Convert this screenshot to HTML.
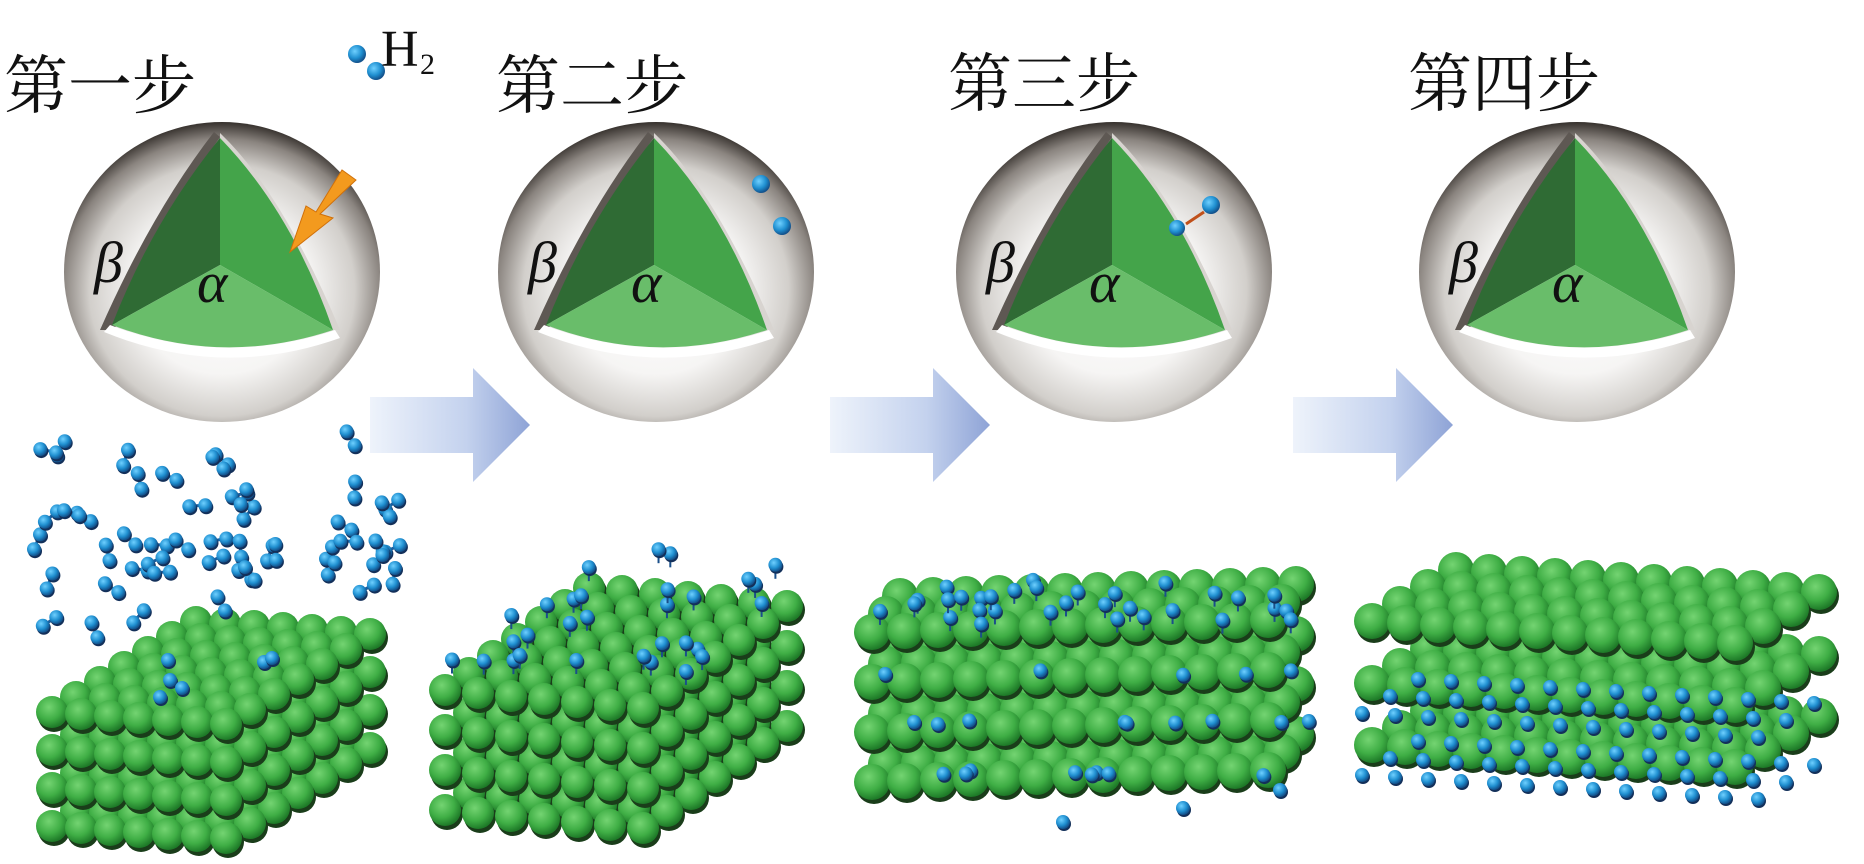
<!DOCTYPE html>
<html><head><meta charset="utf-8"><style>
html,body{margin:0;padding:0;background:#fff;}
svg{display:block;}
.lab{font-family:"Liberation Serif","Noto Serif CJK SC","Noto Sans CJK SC",serif;font-size:64px;fill:#111;}
.gr{font-family:"Liberation Serif",serif;font-style:italic;font-size:58px;fill:#111;}
</style></head><body>
<svg id="s" width="1864" height="864" viewBox="0 0 1864 864" xmlns="http://www.w3.org/2000/svg">
<defs>
<radialGradient id="sph" cx="50%" cy="56%" r="56%">
<stop offset="0" stop-color="#ffffff"/><stop offset="0.5" stop-color="#f6f5f4"/>
<stop offset="0.75" stop-color="#d2cfcb"/><stop offset="0.9" stop-color="#8a847f"/><stop offset="1" stop-color="#36312d"/>
</radialGradient>
<radialGradient id="gb" cx="40%" cy="35%" r="65%">
<stop offset="0" stop-color="#74d472"/><stop offset="0.6" stop-color="#3fae45"/><stop offset="1" stop-color="#1e7a28"/>
</radialGradient>
<radialGradient id="bb" cx="38%" cy="35%" r="65%">
<stop offset="0" stop-color="#6fd0ff"/><stop offset="0.6" stop-color="#1f8fd0"/><stop offset="1" stop-color="#13508a"/>
</radialGradient>
<linearGradient id="arr" x1="0" y1="0" x2="1" y2="0">
<stop offset="0" stop-color="#eef3fb"/><stop offset="0.6" stop-color="#c4d2ee"/><stop offset="1" stop-color="#8ea3d6"/>
</linearGradient>
<g id="cut">
<path d="M-8,-140 Q-70,-60 -122,58 L-108,58 Q-60,-50 -2,-135 Z" fill="#5e5853"/>
<path d="M-2,-139 Q60,-80 118,58 L108,58 Q60,-70 -2,-128 Z" fill="#d8d4d0"/>
<path d="M-2,-134 L-2,-7 L-110,53 Q-70,-50 -2,-134 Z" fill="#2f6b34"/>
<path d="M-2,-134 L-2,-7 L111,58 Q70,-60 -2,-134 Z" fill="#44a44a"/>
<path d="M-2,-7 L-110,53 Q0,95 111,58 Z" fill="#69bd6a"/>
<path d="M-112,53 Q0,96 113,58 L118,66 Q0,108 -118,60 Z" fill="#ffffff"/>
</g>
</defs>

<text class="lab" x="4" y="108">第一步</text>
<text class="lab" x="496" y="108">第二步</text>
<text class="lab" x="948" y="106">第三步</text>
<text class="lab" x="1408" y="106">第四步</text>

<g transform="translate(222,272)"><ellipse rx="158" ry="150" fill="url(#sph)"/><use href="#cut"/>
<text class="gr" x="-128" y="10">β</text><text class="gr" x="-25" y="30">α</text></g>
<g transform="translate(656,272)"><ellipse rx="158" ry="150" fill="url(#sph)"/><use href="#cut"/>
<text class="gr" x="-128" y="10">β</text><text class="gr" x="-25" y="30">α</text></g>
<g transform="translate(1114,272)"><ellipse rx="158" ry="150" fill="url(#sph)"/><use href="#cut"/>
<text class="gr" x="-128" y="10">β</text><text class="gr" x="-25" y="30">α</text></g>
<g transform="translate(1577,272)"><ellipse rx="158" ry="150" fill="url(#sph)"/><use href="#cut"/>
<text class="gr" x="-128" y="10">β</text><text class="gr" x="-25" y="30">α</text></g>

<circle cx="357" cy="54" r="9" fill="url(#bb)"/><circle cx="376" cy="71" r="9" fill="url(#bb)"/>
<text x="381" y="66" font-family="Liberation Serif,serif" font-size="52" fill="#111">H</text>
<text x="420" y="74" font-family="Liberation Serif,serif" font-size="30" fill="#111">2</text>
<path d="M356,180 L320,214 L333,218 L290,252 L306,206 L316,212 L342,170 Z" fill="#f39a1e" stroke="#d0700a" stroke-width="1"/>
<circle cx="761" cy="184" r="9" fill="url(#bb)"/><circle cx="782" cy="226" r="9" fill="url(#bb)"/>
<circle cx="1211" cy="205" r="9" fill="url(#bb)"/><circle cx="1177" cy="228" r="8" fill="url(#bb)"/>
<line x1="1204" y1="212" x2="1186" y2="224" stroke="#c0501a" stroke-width="3"/>

<path d="M370,397 H473 V368 L530,425 L473,482 V453 H370 Z" fill="url(#arr)"/>
<path d="M830,397 H933 V368 L990,425 L933,482 V453 H830 Z" fill="url(#arr)"/>
<path d="M1293,397 H1396 V368 L1453,425 L1396,482 V453 H1293 Z" fill="url(#arr)"/>

<g id="lat"></g>
</svg>
<script>
var NS="http://www.w3.org/2000/svg",L=document.getElementById("lat");
var seed=7;function rnd(){seed=(seed*16807)%2147483647;return seed/2147483647;}
function c(x,y,r,f){var e=document.createElementNS(NS,"circle");e.setAttribute("cx",x.toFixed(1));e.setAttribute("cy",y.toFixed(1));e.setAttribute("r",r);e.setAttribute("fill",f);L.appendChild(e);}
function ln(x1,y1,x2,y2,col,w){var e=document.createElementNS(NS,"line");e.setAttribute("x1",x1);e.setAttribute("y1",y1);e.setAttribute("x2",x2);e.setAttribute("y2",y2);e.setAttribute("stroke",col);e.setAttribute("stroke-width",w);L.appendChild(e);}
function blue(x,y,r){c(x+1,y+2,r,"#13305a");c(x,y,r,"url(#bb)");}
function layer(fx,fy,ax,ay,na,bx,by,nb,r){
  for(var j=nb-1;j>=0;j--){for(var i=0;i<na;i++){var x=fx+i*ax+j*bx,y=fy+i*ay+j*by;
    c(x+2,y+4,r,"#1a3d1a");c(x,y,r,"url(#gb)");}}
}
// block 1
for(var k=3;k>=0;k--)layer(52,712+k*38,29,2,7,24,-15,7,16);
seed=11;
for(var n=0;n<48;n++){var x=40+rnd()*360,y=445+rnd()*200;if(y>600&&x>150)y-=60;var a=rnd()*6.28;var dx=Math.cos(a)*16,dy=Math.sin(a)*16;
 ln(x,y,x+dx,y+dy,"#1a5fa0",3);blue(x,y,7);blue(x+dx,y+dy,7);}
blue(168,660,7);blue(170,680,7);blue(160,697,7);blue(182,688,7);blue(264,662,7);blue(272,658,7);
// block 2
for(var k=3;k>=0;k--)layer(445,690+k*40,33,3,7,24,-17,7,16);
seed=3;
for(var n=0;n<30;n++){var i=rnd()*7,j=rnd()*7;var x=445+i*33+j*24,y=690-26+i*3-j*17;ln(x,y,x,y+12,"#1a4f8a",2);blue(x,y-2,7);}
// block 3
for(var k=3;k>=0;k--)layer(872,782-(3-k)*50,33,-1,13,14,-18,3,18);
seed=5;
for(var n=0;n<32;n++){var x=880+rnd()*430,y=578+rnd()*50;ln(x,y,x,y+14,"#1a4f8a",2);blue(x,y,7);}
for(var n=0;n<22;n++){var x=880+rnd()*430,y=670+Math.floor(rnd()*3)*50+rnd()*6;blue(x,y,7);}
blue(1063,822,7);blue(1183,808,7);blue(1280,790,7);
// block 4
for(var k=2;k>=0;k--){
  layer(1372,745-(2-k)*62,33,2,12,28,-17,4,18);
  if(k<2){for(var i=0;i<13;i++)for(var j=0;j<3;j++){var x=1362+i*33+j*28,y=745-(1-k)*62+30+i*2-j*17;blue(x,y,7);}}
}
</script>
</body></html>
